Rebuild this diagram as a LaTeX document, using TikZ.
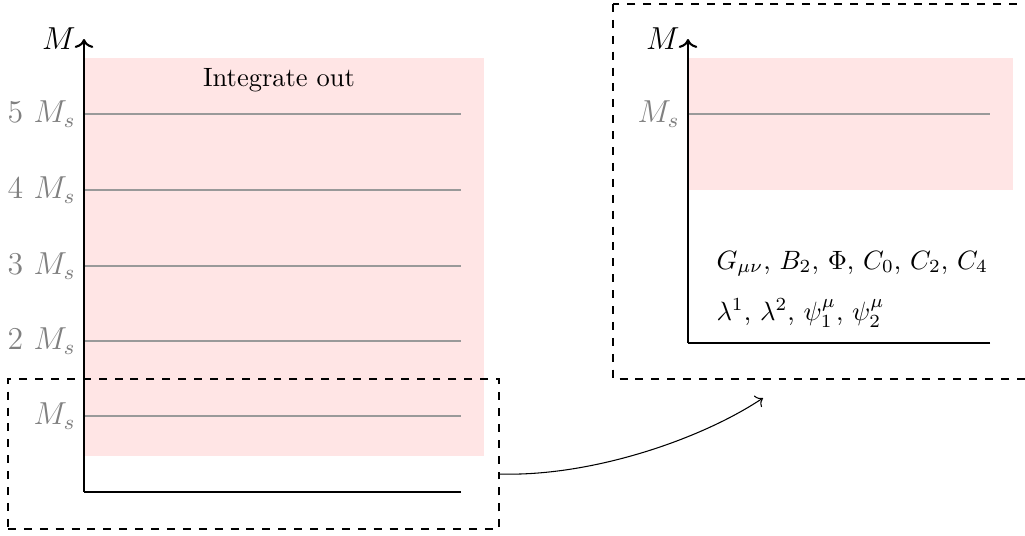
\documentclass[tikz,border=0pt]{standalone}
\usetikzlibrary{arrows.meta}
\begin{document}
\begin{tikzpicture}[x=0.3774pt,y=-0.3774pt,
  axis/.style={line width=0.8pt,black},
  level/.style={line width=0.45pt,gray!80},
  lvlabel/.style={left,text=gray,inner sep=3pt,font=\large},
  axlabel/.style={left,inner sep=3pt,font=\large},
  pinkbox/.style={fill=red!10,draw=none},
  zoombox/.style={draw,dashed,line width=0.4pt},
  conn/.style={->,line width=0.4pt}]
\clip (0,0) rectangle (1025,536);
% ---------- left panel ----------
\fill[pinkbox] (84,58) rectangle (484,456);
\foreach \y/\t in {114/5 ,190/4 ,266/3 ,341/2 ,416/} {
  \draw[level] (84,\y) -- (461,\y);
  \node[lvlabel] at (84,\y) {\t$M_s$};
}
\node[anchor=base] (intout) at (279,86) {Integrate out};
\coordinate (lo) at (84,492);
\coordinate (lx) at (461,492);
\coordinate (ly) at (84,39);
\draw[axis] (lx) -- (lo);
\draw[axis,->] (lo) -- (ly);
\node[axlabel] (lM) at (ly) {$M$};
\node[zoombox,minimum width=491*0.3774pt,minimum height=150*0.3774pt,inner sep=0pt] (lbox) at (253.5,454) {};
% ---------- right panel ----------
\draw[zoombox] (613,4) rectangle (1060,379);
\fill[pinkbox] (688,58) rectangle (1013,190);
\draw[level] (688,114) -- (990,114);
\node[lvlabel] (rMs) at (688,114) {$M_s$};
\coordinate (ro) at (688,343);
\coordinate (rx) at (990,343);
\coordinate (ry) at (688,39);
\draw[axis] (rx) -- (ro);
\draw[axis,->] (ro) -- (ry);
\node[axlabel] (rM) at (ry) {$M$};
\node[anchor=base west,inner sep=0pt] (bos) at (716,269) {$G_{\mu\nu}$, $B_2$, $\Phi$, $C_0$, $C_2$, $C_4$};
\node[anchor=base west,inner sep=0pt] (fer) at (716,320) {$\lambda^1$, $\lambda^2$, $\psi_1^\mu$, $\psi_2^\mu$};
% ---------- connector ----------
\coordinate (arrstart) at (499,474);
\coordinate (arrend) at (763,398);
\draw[conn] (arrstart) .. controls (590,477) and (700,440) .. (arrend);
\end{tikzpicture}
\end{document}
